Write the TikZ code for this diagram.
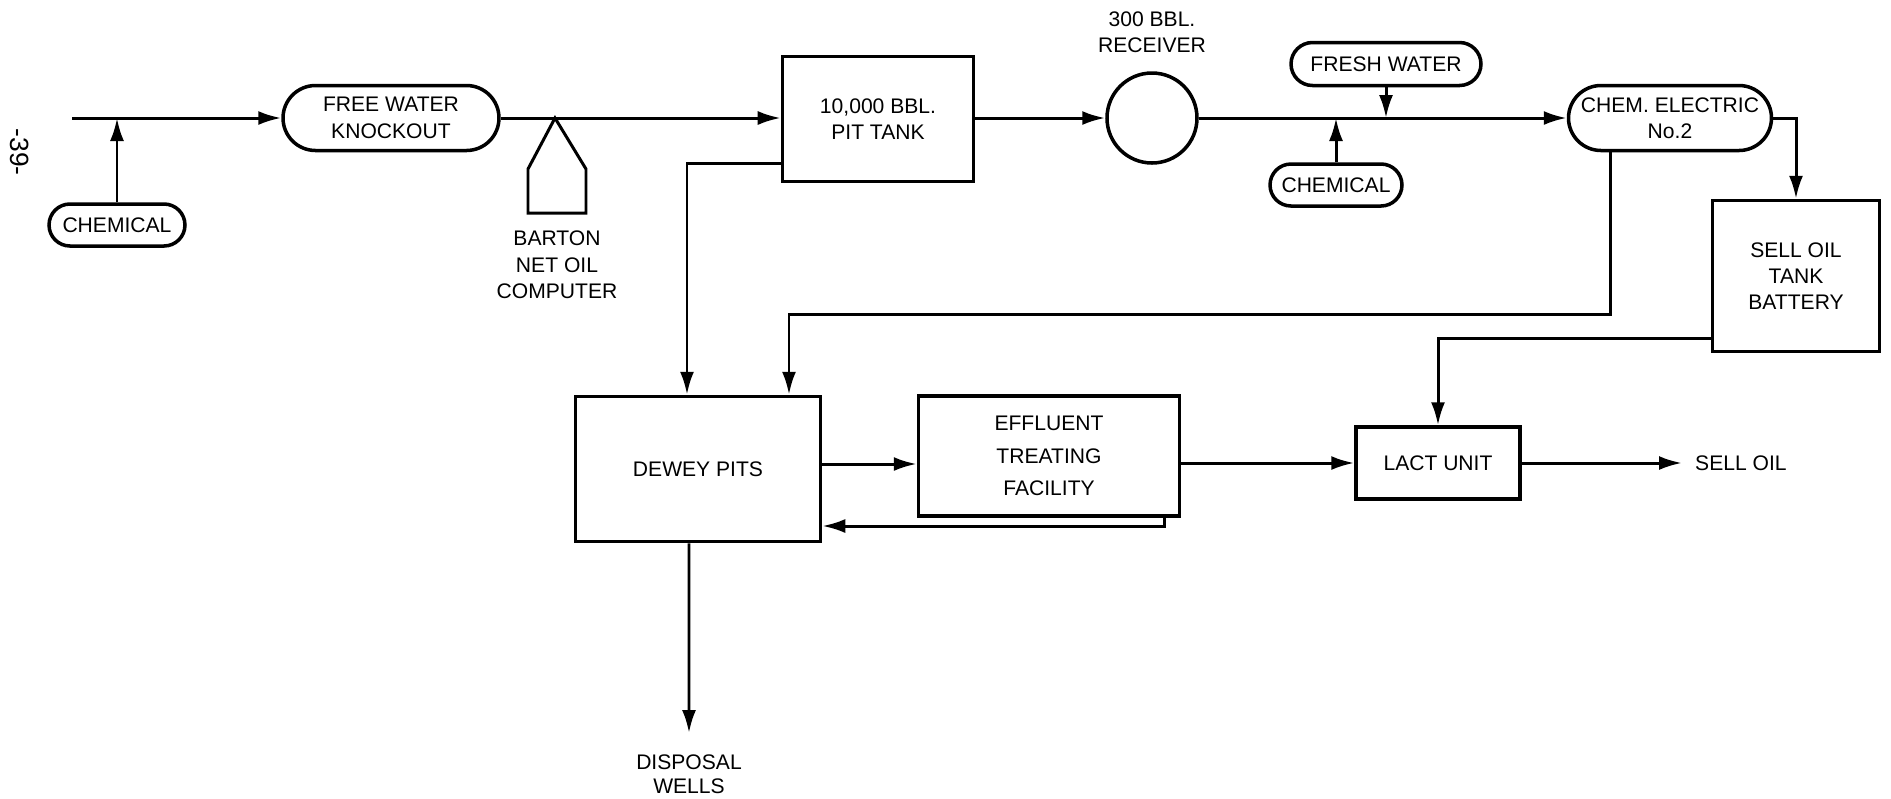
\documentclass[tikz,border=0pt]{standalone}
\usepackage{fontspec}
\setmainfont{Liberation Sans}
\usetikzlibrary{arrows.meta, positioning, shapes.misc}

\begin{document}
\begin{tikzpicture}[x=0.1mm, y=-0.1mm, line width=0.85pt,
      flow/.style={-{Latex[length=2.3mm,width=1.4mm]}},
      pill/.style={rounded rectangle, draw, line width=1pt, inner sep=1pt, align=center, font=\fontsize{6}{7.5}\selectfont},
      box/.style={rectangle, draw, line width=1pt, align=center, font=\fontsize{6}{7.5}\selectfont},
      lbl/.style={align=center, font=\fontsize{6}{7.5}\selectfont}]
    \useasboundingbox (0,0) rectangle (1891,798);
    \node[pill, minimum width=14.3mm, minimum height=4.2mm] (chemA) at (117,225) {CHEMICAL};
    \node[pill, minimum width=22.3mm, minimum height=6.5mm] (fwko) at (391,118) {FREE WATER\\KNOCKOUT};
    \node[box, minimum width=19.1mm, minimum height=12.5mm] (pittank) at (878,119) {10,000 BBL.\\PIT TANK};
    \node[circle, draw, line width=1pt, minimum size=9mm, inner sep=0pt] (receiver) at (1152,118) {};
    \node[lbl] (receiverlbl) at (1152,32) {300 BBL.\\RECEIVER};
    \node[pill, minimum width=19.7mm, minimum height=4.3mm] (freshw) at (1386,64) {FRESH WATER};
    \node[pill, minimum width=13.9mm, minimum height=4.2mm] (chemB) at (1336,185) {CHEMICAL};
    \node[pill, minimum width=21mm, minimum height=6.5mm] (chemelec) at (1670,118) {CHEM. ELECTRIC\\No.2};
    \node[box, minimum width=16.7mm, minimum height=15.1mm] (selltank) at (1796,276) {SELL OIL\\TANK\\BATTERY};
    \node[box, minimum width=24.5mm, minimum height=14.5mm] (dewey) at (698,469) {DEWEY PITS};
    \node[box, minimum width=26.1mm, minimum height=12mm, font=\fontsize{6}{9.2}\selectfont] (effluent) at (1049,456) {EFFLUENT\\TREATING\\FACILITY};
    \node[box, minimum width=16.4mm, minimum height=7.2mm] (lact) at (1438,463) {LACT UNIT};
    \node[lbl, anchor=west] (selloil) at (1682,463) {SELL OIL};
    \node[lbl, anchor=north, inner ysep=2mm, font=\fontsize{6}{7}\selectfont] (disposal) at (689,733) {DISPOSAL\\WELLS};
    \node[lbl] (barton) at (557,265) {BARTON\\NET OIL\\COMPUTER};
    \node[lbl, rotate=-90, font=\fontsize{7.5}{8}\selectfont] (pageno) at (20,152) {-39-};
    \coordinate (feed) at (72,118);
    \coordinate (wet) at (1610,314);
    \coordinate (recycle) at (1164,526);
    \draw (555,118) -- (528,169) -- (528,213) -- (586,213) -- (586,169) -- cycle;
    \draw[flow] (feed) -- (fwko.west);
    \draw[flow] (chemA.north) -- (chemA.north |- feed);
    \draw[flow] (fwko.east) -- (pittank.west |- fwko.east);
    \draw[flow] (pittank.east |- receiver.west) -- (receiver.west);
    \draw[flow] (receiver.east) -- (chemelec.west);
    \draw[flow] (freshw.south) -- (freshw.south |- receiver.east);
    \draw[flow] (chemB.north) -- (chemB.north |- receiver.east);
    \draw[flow] (chemelec.east) -| (selltank.north);
    \draw[flow] (chemelec.south -| wet) -- (wet) -| ([xshift=9.1mm]dewey.north);
    \draw[flow] ([yshift=-4.4mm]pittank.west) -| ([xshift=-1.1mm]dewey.north);
    \draw[flow] ([yshift=-6.2mm]selltank.west) -| (lact.north);
    \draw[flow] ([yshift=0.5mm]dewey.east) -- ([yshift=0.5mm]dewey.east -| effluent.west);
    \draw[flow] (effluent.east |- lact.west) -- (lact.west);
    \draw[flow] (recycle |- effluent.south) -- (recycle) -- (recycle -| dewey.east);
    \draw[flow] (lact.east) -- (selloil.west);
    \draw[flow] ([xshift=-0.9mm]dewey.south) -- (disposal.north);
\end{tikzpicture}
\end{document}
